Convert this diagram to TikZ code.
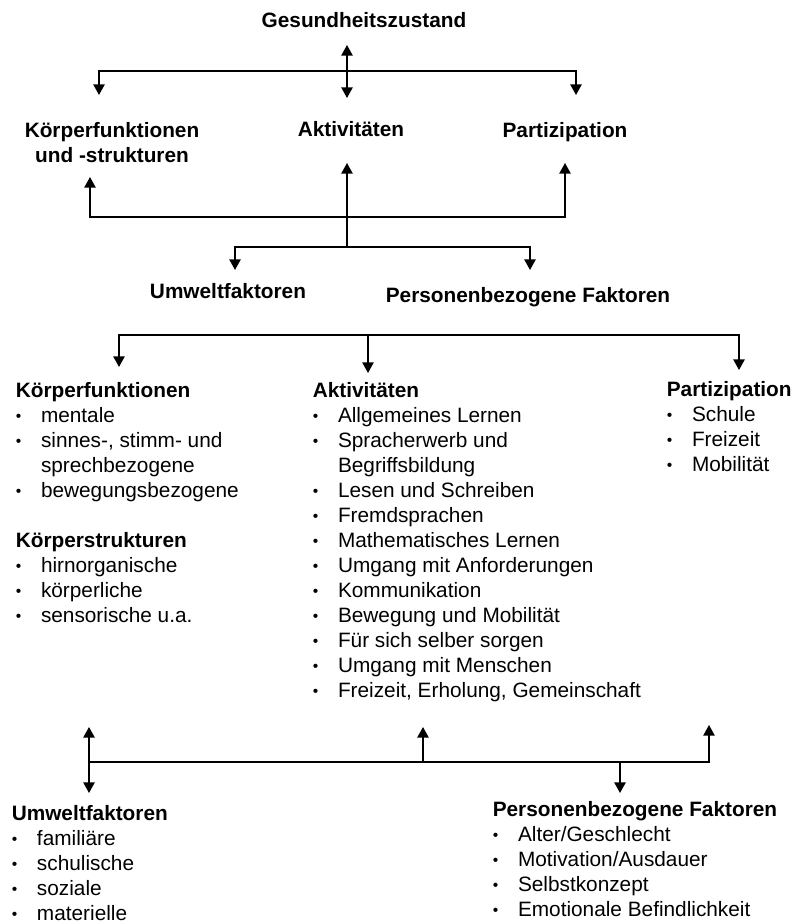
\documentclass[tikz,border=0pt]{standalone}
\usepackage{graphicx}
\usepackage{fontspec}
\setmainfont{Liberation Sans}
\usetikzlibrary{arrows.meta}
\newcommand\icfbul{\makebox[18.9pt][l]{\raisebox{0.04em}{\scalebox{0.75}{•}}}}
\begin{document}
\begin{tikzpicture}[x=0.75pt,y=-0.75pt,
  line width=1.2pt,
  tip/.tip={Triangle[length=8pt,width=8.5pt]},
  arr/.style={-tip},
  darr/.style={tip-tip},
  lbl/.style={inner sep=0pt, font=\fontsize{15.6}{18.2}\selectfont\bfseries, anchor=base},
  col/.style={inner sep=0pt, font=\fontsize{15.6}{18.75}\selectfont, anchor=base west},
]
\useasboundingbox (0,0) rectangle (794,923);

% ---------- top diagram ----------
\node[lbl] (gz) at (364,28) {Gesundheitszustand};
\node[lbl] (kfs) at (112,138) {\begin{tabular}[t]{@{}c@{}}Körperfunktionen\\und -strukturen\end{tabular}};
\node[lbl] (akt) at (351,137) {Aktivitäten};
\node[lbl] (par) at (565,138) {Partizipation};
\node[lbl] (umw) at (228,298) {Umweltfaktoren};
\node[lbl] (pbf) at (528,302) {Personenbezogene Faktoren};

\coordinate (a1) at (347,45);
\coordinate (a2) at (347,98);
\coordinate (a3) at (347,71);
\coordinate (a4) at (99,95);
\coordinate (a5) at (576,95);
\draw[darr] (a1) -- (a2);
\draw[arr] (a3) -| (a4);
\draw[arr] (a3) -| (a5);

\coordinate (b1) at (90,177);
\coordinate (b2) at (565,217);
\coordinate (b3) at (565,163);
\coordinate (b4) at (347,247);
\coordinate (b5) at (347,163);
\coordinate (b6) at (235,270);
\coordinate (b7) at (530,270);
\draw[darr] (b1) |- (b2) -- (b3);
\draw[arr] (b4) -- (b5);
\draw[arr] (b4) -| (b6);
\draw[arr] (b4) -| (b7);

% ---------- middle arrows ----------
\coordinate (c1) at (119,367);
\coordinate (c2) at (739,335);
\coordinate (c3) at (739,370);
\coordinate (c4) at (368,335);
\coordinate (c5) at (368,373);
\draw[darr] (c1) |- (c2) -- (c3);
\draw[arr] (c4) -- (c5);

% ---------- lists ----------
\node[col] (kfcol) at (15,397) {\begin{tabular}[t]{@{}l@{}l@{}}
\multicolumn{2}{@{}l@{}}{\bfseries Körperfunktionen}\\
\icfbul & mentale\\
\icfbul & sinnes-, stimm- und\\
 & sprechbezogene\\
\icfbul & bewegungsbezogene\\
\multicolumn{2}{@{}l@{}}{}\\
\multicolumn{2}{@{}l@{}}{\bfseries Körperstrukturen}\\
\icfbul & hirnorganische\\
\icfbul & körperliche\\
\icfbul & sensorische u.a.
\end{tabular}};

\node[col] (aktcol) at (312,397) {\begin{tabular}[t]{@{}l@{}l@{}}
\multicolumn{2}{@{}l@{}}{\bfseries Aktivitäten}\\
\icfbul & Allgemeines Lernen\\
\icfbul & Spracherwerb und\\
 & Begriffsbildung\\
\icfbul & Lesen und Schreiben\\
\icfbul & Fremdsprachen\\
\icfbul & Mathematisches Lernen\\
\icfbul & Umgang mit Anforderungen\\
\icfbul & Kommunikation\\
\icfbul & Bewegung und Mobilität\\
\icfbul & Für sich selber sorgen\\
\icfbul & Umgang mit Menschen\\
\icfbul & Freizeit, Erholung, Gemeinschaft
\end{tabular}};

\node[col] (parcol) at (666,396) {\begin{tabular}[t]{@{}l@{}l@{}}
\multicolumn{2}{@{}l@{}}{\bfseries Partizipation}\\
\icfbul & Schule\\
\icfbul & Freizeit\\
\icfbul & Mobilität
\end{tabular}};

% ---------- bottom arrows ----------
\coordinate (d1) at (89,727);
\coordinate (d2) at (89,793);
\coordinate (d3) at (89,762);
\coordinate (d4) at (709,725);
\coordinate (d5) at (423,762);
\coordinate (d6) at (423,727);
\coordinate (d7) at (620,762);
\coordinate (d8) at (620,793);
\draw[darr] (d1) -- (d2);
\draw[arr] (d3) -| (d4);
\draw[arr] (d5) -- (d6);
\draw[arr] (d7) -- (d8);

\node[col] (umwcol) at (11,820) {\begin{tabular}[t]{@{}l@{}l@{}}
\multicolumn{2}{@{}l@{}}{\bfseries Umweltfaktoren}\\
\icfbul & familiäre\\
\icfbul & schulische\\
\icfbul & soziale\\
\icfbul & materielle
\end{tabular}};

\node[col] (pbfcol) at (492,816) {\begin{tabular}[t]{@{}l@{}l@{}}
\multicolumn{2}{@{}l@{}}{\bfseries Personenbezogene Faktoren}\\
\icfbul & Alter/Geschlecht\\
\icfbul & Motivation/Ausdauer\\
\icfbul & Selbstkonzept\\
\icfbul & Emotionale Befindlichkeit
\end{tabular}};
\end{tikzpicture}
\end{document}
